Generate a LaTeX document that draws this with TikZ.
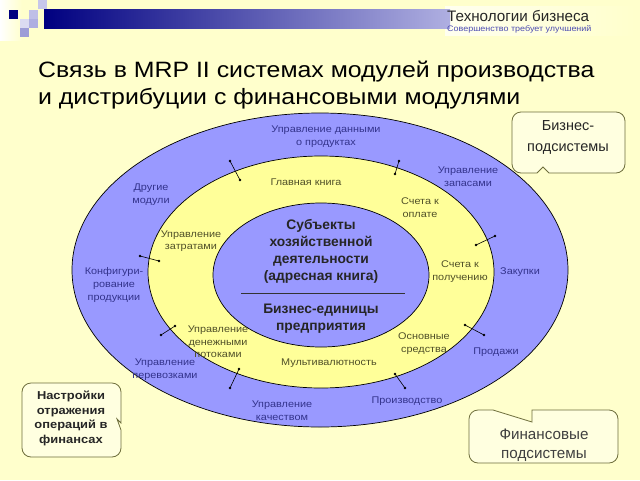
\documentclass[tikz,border=0pt]{standalone}
\usepackage{fontspec}
\setmainfont{Liberation Sans}
\newfontfamily\widefont{Liberation Sans}[FakeStretch=1.12]
\usetikzlibrary{shapes.geometric}
\definecolor{bg}{RGB}{255,255,204}
\definecolor{ringblue}{RGB}{153,153,255}
\definecolor{ringyellow}{RGB}{255,255,153}
\definecolor{navy}{RGB}{0,0,128}
\definecolor{lav}{RGB}{175,175,225}
\definecolor{bluetxt}{RGB}{51,51,140}
\definecolor{olivetxt}{RGB}{80,80,40}
\definecolor{boxedge}{RGB}{110,110,60}
\tikzset{
  ring/.style={ellipse, draw=black, line width=0.7pt, inner sep=0pt},
  bluelbl/.style={align=center, text=bluetxt, font=\widefont\fontsize{9.7}{13}\selectfont, inner sep=0pt},
  yellbl/.style={align=center, text=olivetxt, font=\widefont\fontsize{9.7}{12.5}\selectfont, inner sep=0pt},
  coretxt/.style={align=center, font=\fontsize{13.8}{17}\selectfont\bfseries, text=black!85, inner sep=0pt},
  link/.style={line width=0.6pt, black},
  dotend/.style={circle, fill=black, inner sep=0pt, minimum size=2.6pt},
  callout/.style={draw=boxedge, line width=0.8pt, fill=bg!60!white},
  sq/.style={inner sep=0pt, minimum size=9pt, draw=none}
}
\begin{document}
\begin{tikzpicture}[x=1pt,y=-1pt]
\useasboundingbox (0,0) rectangle (640,480);
\fill[bg] (0,0) rectangle (640,480);
% header bar
\shade[left color=white!70!bg, right color=bg] (445,6) rectangle (635,35);
\shade[left color=navy, right color=lav] (44,9) rectangle (450,28);
\shade[left color=white, right color=bg] (0,0) rectangle (22,40);
\node[sq, fill=navy] (s1) at (13.5,14) {};
\node[sq, fill=lav!70!white] (s2) at (42.5,4) {};
\node[sq, fill=lav!80!white] (s3) at (33,14) {};
\node[sq, fill=lav!45!white] (s4) at (24,23) {};
\node[sq, fill=lav] (s5) at (33,23) {};
\node[sq, fill=lav!90!navy] (s6) at (24,32.5) {};
\node[anchor=base west, inner sep=0pt, font=\fontsize{15.2}{17}\selectfont, text=black!85] (brand) at (447,21) {Технологии бизнеса};
\node[anchor=base west, inner sep=0pt, font=\widefont\fontsize{8}{9}\selectfont, text=blue!40!gray] (slogan) at (447,31) {Совершенство требует улучшений};
% title
\node[anchor=base west, inner sep=0pt, font=\widefont\fontsize{22.2}{26}\selectfont] (t1) at (38,77) {Связь в MRP II системах модулей производства};
\node[anchor=base west, inner sep=0pt, font=\widefont\fontsize{22.2}{26}\selectfont] (t2) at (38,104) {и дистрибуции с финансовыми модулями};
% rings
\node[ring, fill=ringblue, minimum width=496pt, minimum height=314pt] (outer) at (320,270) {};
\node[ring, fill=ringyellow, minimum width=346pt, minimum height=232pt] (middle) at (321,272) {};
\node[ring, fill=ringblue, minimum width=216pt, minimum height=144pt] (inner) at (321,275) {};
% core text
\node[coretxt] (subj) at (321,251.5) {Субъекты\\хозяйственной\\деятельности\\(адресная книга)};
\coordinate (sepL) at (241,293);
\coordinate (sepR) at (405,293);
\draw[line width=0.8pt, black!80] (sepL) -- (sepR);
\node[coretxt] (units) at (321,318.5) {Бизнес-единицы\\предприятия};
% outer ring labels
\node[bluelbl] (pdm) at (326,136.5) {Управление данными\\о продуктах};
\node[bluelbl] (other) at (151,194.5) {Другие\\модули};
\node[bluelbl] (inv) at (468,176.5) {Управление\\запасами};
\node[bluelbl] (conf) at (114,285) {Конфигури-\\рование\\продукции};
\node[bluelbl] (purch) at (520,272) {Закупки};
\node[bluelbl] (transp) at (165,370) {Управление\\перевозками};
\node[bluelbl] (sales) at (496,352) {Продажи};
\node[bluelbl] (qual) at (282,410.5) {Управление\\качеством};
\node[bluelbl] (prod) at (407,401) {Производство};
% middle ring labels
\node[yellbl] (gl) at (306,182) {Главная книга};
\node[yellbl] (ap) at (420,207.5) {Счета к\\оплате};
\node[yellbl] (cost) at (191,241) {Управление\\затратами};
\node[yellbl] (ar) at (460,271.5) {Счета к\\получению};
\node[yellbl] (cash) at (218,342) {Управление\\денежными\\потоками};
\node[yellbl] (fa) at (424,343.5) {Основные\\средства};
\node[yellbl] (multi) at (329,363) {Мультивалютность};
% connectors across the middle ring boundary
\foreach \n/\ax/\ay/\bx/\by in {c1/230/161/240/180, c2/140/256/159/261, c3/399/161/395/174, c4/476/245/495/236,
  c5/175/326/161/335, c6/239/369/230/388, c7/465/325/484/335, c8/395/374/405/388}{
  \coordinate (\n a) at (\ax,\ay);
  \coordinate (\n b) at (\bx,\by);
  \draw[link] (\n a) -- (\n b);
  \node[dotend] at (\n a) {};
  \node[dotend] at (\n b) {};
}
% callout: business subsystems
\draw[callout] (543,167) -- (549,173) [rounded corners=9pt] -- (625,173) -- (625,112) -- (512,112) -- (512,173) [sharp corners] -- (537,173) -- cycle;
\node[align=center, inner sep=0pt, font=\fontsize{14.5}{21}\selectfont, text=black!85] (biz) at (568,137.5) {Бизнес-\\подсистемы};
% callout: financial subsystems
\draw[callout] (532,422) -- (532,410) [rounded corners=9pt] -- (618,410) -- (618,463) -- (469,463) -- (469,410) [sharp corners] -- (493,410) -- cycle;
\node[align=center, inner sep=0pt, font=\fontsize{15.2}{18.5}\selectfont, text=black!75] (fin) at (544,445) {Финансовые\\подсистемы};
% callout: settings
\draw[callout] (117,419) -- (121,430) [rounded corners=9pt] -- (121,457) -- (22,457) -- (22,383) -- (121,383) [sharp corners] -- (121,423) -- cycle;
\node[align=center, inner sep=0pt, font=\widefont\fontsize{11.5}{14.5}\selectfont\bfseries, text=black!85] (set) at (71,418.5) {Настройки\\отражения\\операций в\\финансах};
\end{tikzpicture}
\end{document}
